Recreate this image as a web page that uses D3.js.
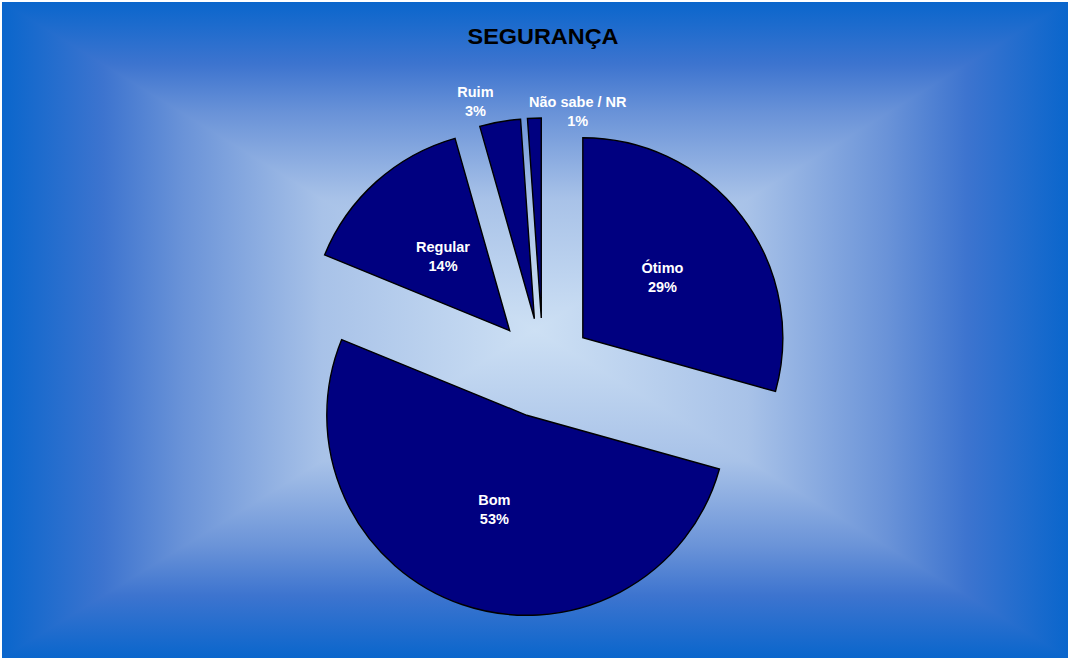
<!DOCTYPE html>
<html>
<head>
<meta charset="utf-8">
<script src="https://cdn.jsdelivr.net/npm/d3@7"></script>
<style>
  html, body { margin: 0; padding: 0; background: #ffffff; }
  svg { display: block; }
  text { font-family: "Liberation Sans", Arial, sans-serif; font-weight: bold; }
</style>
</head>
<body>
<svg id="chart" width="1070" height="659"></svg>
<script>
// ---- data ----
const title = "SEGURANÇA";
const categories = ["Ótimo", "Bom", "Regular", "Ruim", "Não sabe / NR"];
const values = [29.3, 51.8, 14.4, 3.3, 1.1];
const percentLabels = ["29%", "53%", "14%", "3%", "1%"];

// ---- layout ----
const W = 1070, H = 659;
const area = { x0: 2, y0: 2, x1: 1068, y1: 658 };
const center = { x: 543, y: 368 };
const radius = 200;
const explode = 50;
const sliceFill = "#000080";
// outside label placement (angle in degrees, distance from slice apex) for small slices
const outsideLabels = { 3: { angle: 344.8, dist: 225 }, 4: { angle: 10, dist: 210 } };

const svg = d3.select("#chart");
const defs = svg.append("defs");

// rectangular "from center" gradient background
const cx = (area.x0 + area.x1) / 2, cy = (area.y0 + area.y1) / 2;
const stops = [
  [0, "#0a66cc"], [0.19, "#3d74cf"], [0.34, "#6a93d8"], [0.6, "#a8c2e8"], [1, "#cde0f4"]
];
function grad(id, x1, y1, x2, y2, st) {
  const g = defs.append("linearGradient").attr("id", id)
    .attr("gradientUnits", "userSpaceOnUse")
    .attr("x1", x1).attr("y1", y1).attr("x2", x2).attr("y2", y2);
  st.forEach(s => g.append("stop").attr("offset", s[0]).attr("stop-color", s[1]));
}
const vStops = stops.map(s => [s[0] / 2, s[1]]).concat(stops.slice().reverse().slice(1).map(s => [1 - s[0] / 2, s[1]]));
grad("gV", 0, area.y0, 0, area.y1, vStops);
grad("gL", area.x0, 0, cx, 0, stops);
grad("gR", area.x1, 0, cx, 0, stops);

svg.append("rect").attr("x", area.x0).attr("y", area.y0)
  .attr("width", area.x1 - area.x0).attr("height", area.y1 - area.y0)
  .attr("fill", "url(#gV)");
svg.append("polygon")
  .attr("points", [[area.x0, area.y0], [cx, cy], [area.x0, area.y1]].map(p => p.join(",")).join(" "))
  .attr("fill", "url(#gL)");
svg.append("polygon")
  .attr("points", [[area.x1, area.y0], [cx, cy], [area.x1, area.y1]].map(p => p.join(",")).join(" "))
  .attr("fill", "url(#gR)");

// title
svg.append("text")
  .attr("x", 543).attr("y", 44)
  .attr("text-anchor", "middle")
  .attr("font-size", 22.5)
  .attr("fill", "#000")
  .attr("textLength", 151).attr("lengthAdjust", "spacingAndGlyphs")
  .text(title);

// pie
const pie = d3.pie().sort(null).value(d => d);
const arcs = pie(values);
const arc = d3.arc().innerRadius(0).outerRadius(radius);

const g = svg.append("g").attr("transform", `translate(${center.x},${center.y})`);

arcs.forEach((a, i) => {
  const mid = (a.startAngle + a.endAngle) / 2;
  const ox = explode * Math.sin(mid), oy = -explode * Math.cos(mid);
  const sg = g.append("g").attr("transform", `translate(${ox},${oy})`);
  sg.append("path").attr("d", arc(a))
    .attr("fill", sliceFill)
    .attr("stroke", "#000")
    .attr("stroke-width", 1.4)
    .attr("stroke-linejoin", "miter");

  let lx, ly;
  if (outsideLabels[i]) {
    const ang = outsideLabels[i].angle * Math.PI / 180;
    lx = outsideLabels[i].dist * Math.sin(ang);
    ly = -outsideLabels[i].dist * Math.cos(ang);
  } else {
    const lr = radius * 0.5;
    lx = lr * Math.sin(mid);
    ly = -lr * Math.cos(mid);
  }
  const t = sg.append("text")
    .attr("text-anchor", "middle")
    .attr("font-size", 14.5)
    .attr("fill", "#ffffff");
  t.append("tspan").attr("x", lx).attr("y", ly - 4.5).text(categories[i]);
  t.append("tspan").attr("x", lx).attr("y", ly + 14.5).text(percentLabels[i]);
});
</script>
</body>
</html>
